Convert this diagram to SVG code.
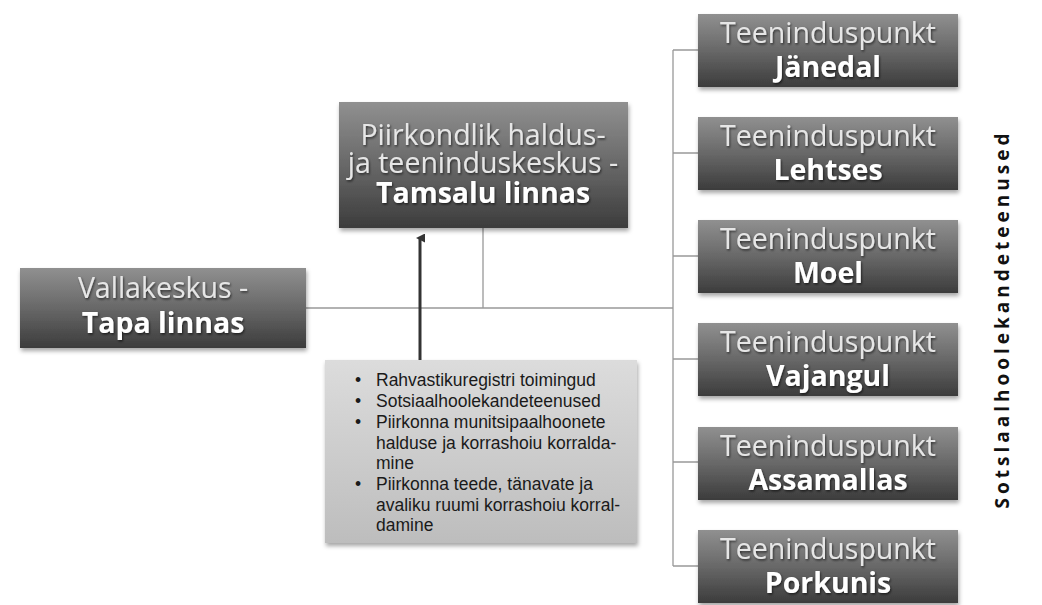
<svg xmlns="http://www.w3.org/2000/svg" width="1042" height="605" viewBox="0 0 1042 605">
<defs>
<linearGradient id="dark" x1="0" y1="0" x2="0" y2="1">
<stop offset="0" stop-color="#909090"/>
<stop offset="0.5" stop-color="#686868"/>
<stop offset="1" stop-color="#3c3c3c"/>
</linearGradient>
<linearGradient id="light" x1="0" y1="0" x2="0" y2="1">
<stop offset="0" stop-color="#dcdcdc"/>
<stop offset="1" stop-color="#bdbdbd"/>
</linearGradient>
<filter id="sh" x="-10%" y="-10%" width="120%" height="130%">
<feDropShadow dx="1" dy="3" stdDeviation="2" flood-color="#000" flood-opacity="0.35"/>
</filter>
<filter id="tsh" x="-10%" y="-20%" width="120%" height="150%">
<feDropShadow dx="1" dy="1.5" stdDeviation="1" flood-color="#000" flood-opacity="0.6"/>
</filter>
<marker id="arr" markerWidth="9" markerHeight="9" refX="4.5" refY="4" orient="auto" markerUnits="userSpaceOnUse">
<path d="M0,9 L4.5,0 L9,9 Z" fill="#333"/>
</marker>
</defs>
<style>
.box{fill:url(#dark);filter:url(#sh)}
.t{font-family:"Open Sans","Noto Sans",sans-serif;font-size:28.5px;fill:#e6e6e6;text-anchor:middle;filter:url(#tsh)}
.b{font-weight:bold;fill:#fff}
.l{fill:none;stroke:#999;stroke-width:1.3}
.bl{font-family:"Liberation Sans",Arial,sans-serif;font-size:17.5px;fill:#1a1a1a}
</style>
<rect width="1042" height="605" fill="#fff"/>
<g id="connectors">
<path class="l" d="M306,308 H673 M483,228 V308 M673,50 V566 M673,50 H698 M673,153 H698 M673,256 H698 M673,359 H698 M673,462 H698 M673,566 H698"/>
<line x1="420" y1="360" x2="420" y2="238" stroke="#333" stroke-width="3" marker-end="url(#arr)"/>
</g>
<g id="vallakeskus">
<rect class="box" x="20" y="268" width="286" height="80"/>
<text class="t" x="163" y="298">Vallakeskus -</text>
<text class="t b" x="163" y="333">Tapa linnas</text>
</g>
<g id="tamsalu">
<rect class="box" x="339" y="102" width="289" height="126"/>
<text class="t" x="483" y="145">Piirkondlik haldus-</text>
<text class="t" x="483" y="173">ja teeninduskeskus -</text>
<text class="t b" x="483" y="203">Tamsalu linnas</text>
</g>
<g id="functions">
<rect x="325" y="360" width="312" height="183" fill="url(#light)" filter="url(#sh)"/>
<g class="bl">
<text x="355" y="386">•</text><text x="376" y="386">Rahvastikuregistri toimingud</text>
<text x="355" y="407">•</text><text x="376" y="407">Sotsiaalhoolekandeteenused</text>
<text x="355" y="428">•</text><text x="376" y="428">Piirkonna munitsipaalhoonete</text>
<text x="376" y="449">halduse ja korrashoiu korralda-</text>
<text x="376" y="469">mine</text>
<text x="355" y="490">•</text><text x="376" y="490">Piirkonna teede, tänavate ja</text>
<text x="376" y="511">avaliku ruumi korrashoiu korral-</text>
<text x="376" y="531">damine</text>
</g>
</g>
<g id="janedal">
<rect class="box" x="698" y="14" width="260" height="73"/>
<text class="t" x="828" y="43">Teeninduspunkt</text>
<text class="t b" x="828" y="77">Jänedal</text>
</g>
<g id="lehtses">
<rect class="box" x="698" y="117" width="260" height="73"/>
<text class="t" x="828" y="146">Teeninduspunkt</text>
<text class="t b" x="828" y="180">Lehtses</text>
</g>
<g id="moe">
<rect class="box" x="698" y="220" width="260" height="73"/>
<text class="t" x="828" y="249">Teeninduspunkt</text>
<text class="t b" x="828" y="283">Moel</text>
</g>
<g id="vajangu">
<rect class="box" x="698" y="323" width="260" height="73"/>
<text class="t" x="828" y="352">Teeninduspunkt</text>
<text class="t b" x="828" y="386">Vajangul</text>
</g>
<g id="assamalla">
<rect class="box" x="698" y="427" width="260" height="73"/>
<text class="t" x="828" y="456">Teeninduspunkt</text>
<text class="t b" x="828" y="490">Assamallas</text>
</g>
<g id="porkuni">
<rect class="box" x="698" y="530" width="260" height="73"/>
<text class="t" x="828" y="559">Teeninduspunkt</text>
<text class="t b" x="828" y="593">Porkunis</text>
</g>
<text x="0" y="0" transform="translate(1009,319) rotate(-90)" font-family="'Open Sans','Noto Sans',sans-serif" font-size="19" font-weight="bold" letter-spacing="4" text-anchor="middle" fill="#111">Sotslaalhoolekandeteenused</text>
</svg>
